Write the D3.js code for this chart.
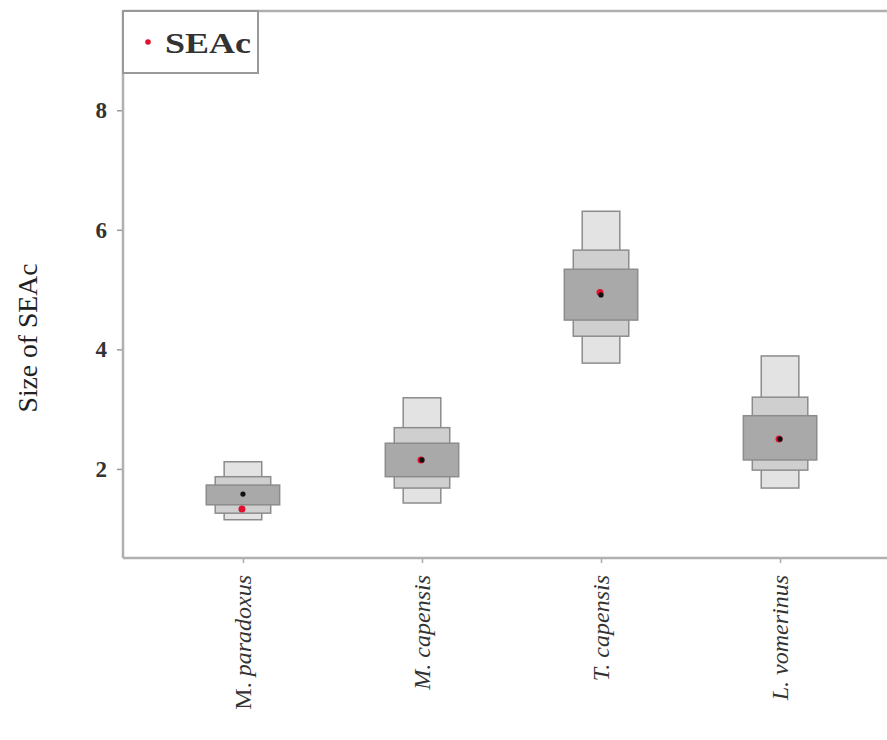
<!DOCTYPE html>
<html>
<head>
<meta charset="utf-8">
<script src="https://cdn.jsdelivr.net/npm/d3@7"></script>
<style>
  body { margin: 0; background: #fff; }
  svg { display: block; }
  .axis text { font-family: "Liberation Serif", "DejaVu Serif", serif; fill: #333; }
</style>
</head>
<body>
<svg id="chart" width="887" height="740"></svg>
<script>
// ---------- data ----------
var species   = ["M. paradoxus", "M. capensis", "T. capensis", "L. vomerinus"];
var uprightGenus = [true, false, false, false];
// credible intervals of the SEA_B posterior
var ci95Low  = [1.15, 1.43, 3.77, 1.68];
var ci95High = [2.12, 3.19, 6.31, 3.89];
var ci75Low  = [1.26, 1.68, 4.22, 1.98];
var ci75High = [1.87, 2.69, 5.66, 3.20];
var ci50Low  = [1.40, 1.87, 4.49, 2.15];
var ci50High = [1.73, 2.43, 5.34, 2.89];
var modes    = [1.58, 2.15, 4.91, 2.50];
var seac     = [1.33, 2.15, 4.95, 2.50];
var yTicks   = [2, 4, 6, 8];

// ---------- layout ----------
var margin = {top: 11, left: 123};
var width = 777, height = 547;

var svg = d3.select("#chart");
var g = svg.append("g").attr("transform", "translate(" + margin.left + "," + margin.top + ")");

var x = d3.scalePoint().domain(species).range([0, width]).padding(0.67);
var y = d3.scaleLinear().domain([0.51, 9.66]).range([height, 0]);
var step = x.step();

// boxes: widest/darkest = 50%, narrowest/lightest = 95%
var levels = [
  {lo: ci95Low, hi: ci95High, w: 0.21, fill: "#e3e3e3"},
  {lo: ci75Low, hi: ci75High, w: 0.31, fill: "#cfcfcf"},
  {lo: ci50Low, hi: ci50High, w: 0.41, fill: "#a9a9a9"}
];

levels.forEach(function(lv){
  g.selectAll(null)
    .data(species)
    .enter()
    .append("rect")
    .attr("x", function(d){ return x(d) - lv.w*step/2; })
    .attr("width", lv.w*step)
    .attr("y", function(d,i){ return y(lv.hi[i]); })
    .attr("height", function(d,i){ return y(lv.lo[i]) - y(lv.hi[i]); })
    .attr("fill", lv.fill)
    .attr("stroke", "#8c8c8c")
    .attr("stroke-width", 1.5);
});

// SEAc (red) and mode (black)
g.selectAll("circle.seac")
  .data(species)
  .enter()
  .append("circle")
  .attr("class", "seac")
  .attr("cx", function(d){ return x(d) - 1; })
  .attr("cy", function(d,i){ return y(seac[i]); })
  .attr("r", 3.5)
  .attr("fill", "#e0102e");

g.selectAll("circle.mode")
  .data(species)
  .enter()
  .append("circle")
  .attr("class", "mode")
  .attr("cx", function(d){ return x(d); })
  .attr("cy", function(d,i){ return y(modes[i]); })
  .attr("r", 2.6)
  .attr("fill", "#111");

// ---------- axes ----------
var yAxis = d3.axisLeft(y).tickValues(yTicks).tickSize(6).tickPadding(10).tickFormat(d3.format("d"));
var yg = g.append("g").attr("class", "axis").call(yAxis);
yg.select(".domain").remove();
yg.selectAll(".tick line").attr("stroke", "#999").attr("stroke-width", 1.5);
yg.selectAll(".tick text").style("font-size", "23px").style("font-weight", "bold").attr("fill", "#4a4a4a");

var xAxis = d3.axisBottom(x).tickSize(5).tickFormat("");
var xg = g.append("g").attr("class", "axis").attr("transform", "translate(0," + height + ")").call(xAxis);
xg.select(".domain").remove();
xg.selectAll(".tick line").attr("stroke", "#aaa").attr("stroke-width", 1.5);

// rotated category labels
var lab = g.selectAll("text.cat")
  .data(species)
  .enter()
  .append("text")
  .attr("class", "cat")
  .attr("transform", function(d){ return "translate(" + x(d) + "," + (height + 17) + ") rotate(-90)"; })
  .attr("text-anchor", "end")
  .attr("dy", "0.35em")
  .style("font-family", "'Liberation Serif', 'DejaVu Serif', serif")
  .style("font-size", "24px")
  .attr("fill", "#333");
lab.append("tspan")
  .style("font-style", function(d,i){ return uprightGenus[i] ? "normal" : "italic"; })
  .text(function(d){ return d.split(" ")[0] + " "; });
lab.append("tspan")
  .style("font-style", "italic")
  .text(function(d){ return d.split(" ")[1]; });

// frame
g.append("line").attr("x1", 0).attr("x2", 0).attr("y1", 0).attr("y2", height)
  .attr("stroke", "#b0b0b0").attr("stroke-width", 2.5);
g.append("line").attr("x1", 0).attr("x2", width).attr("y1", 0).attr("y2", 0)
  .attr("stroke", "#b0b0b0").attr("stroke-width", 2.5);
g.append("line").attr("x1", 0).attr("x2", width).attr("y1", height).attr("y2", height)
  .attr("stroke", "#b0b0b0").attr("stroke-width", 2.5);

// axis title
svg.append("text")
  .attr("transform", "translate(37," + 338 + ") rotate(-90)")
  .attr("text-anchor", "middle")
  .attr("textLength", 149)
  .attr("lengthAdjust", "spacingAndGlyphs")
  .style("font-family", "'Liberation Serif', 'DejaVu Serif', serif")
  .style("font-size", "27px")
  .attr("fill", "#222")
  .text("Size of SEAc");

// legend
var leg = g.append("g");
leg.append("rect").attr("x", 0).attr("y", 0).attr("width", 135).attr("height", 62)
  .attr("fill", "#fff").attr("stroke", "#999").attr("stroke-width", 2);
leg.append("circle").attr("cx", 25).attr("cy", 31).attr("r", 2.8).attr("fill", "#e0102e");
leg.append("text").attr("x", 42).attr("y", 42)
  .attr("textLength", 86)
  .attr("lengthAdjust", "spacingAndGlyphs")
  .style("font-family", "'Liberation Serif', 'DejaVu Serif', serif")
  .style("font-size", "30px")
  .style("font-weight", "bold")
  .attr("fill", "#333")
  .text("SEAc");
</script>
</body>
</html>
